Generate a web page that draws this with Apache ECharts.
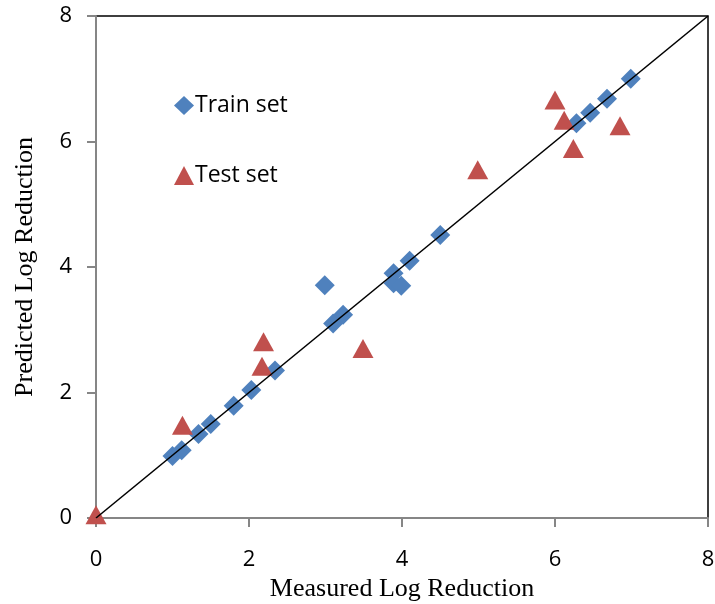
<!DOCTYPE html>
<html>
<head>
<meta charset="utf-8">
<script src="https://cdn.jsdelivr.net/npm/echarts@6/dist/echarts.min.js"></script>
<style>html,body{margin:0;padding:0;background:#fff;}#c{width:715px;height:604px;}</style>
</head>
<body>
<div id="c"></div>
<script>
var trainMeasured = [1.00, 1.12, 1.34, 1.50, 1.80, 2.03, 2.34, 2.99, 3.10, 3.23, 3.89, 3.89, 3.99, 4.10, 4.50, 6.28, 6.46, 6.68, 6.99];
var trainPredicted = [0.99, 1.08, 1.34, 1.50, 1.79, 2.04, 2.35, 3.71, 3.10, 3.24, 3.90, 3.74, 3.70, 4.10, 4.51, 6.29, 6.46, 6.68, 7.00];
var testMeasured = [0.00, 1.13, 2.17, 2.19, 3.49, 4.99, 6.00, 6.12, 6.24, 6.85];
var testPredicted = [0.05, 1.48, 2.42, 2.81, 2.70, 5.55, 6.66, 6.34, 5.89, 6.25];
var axisTicks = [0, 2, 4, 6, 8];
var seriesNames = ['Train set', 'Test set'];

function pairs(xs, ys) { return xs.map(function (x, i) { return [x, ys[i]]; }); }

var chart = echarts.init(document.getElementById('c'));
var tickFont = { fontFamily: '"Open Sans", "Noto Sans", sans-serif', fontSize: 22, color: '#000' };
chart.setOption({
  animation: false,
  backgroundColor: '#fff',
  grid: { left: 96, right: 7, top: 16, bottom: 86, containLabel: false, outerBoundsMode: 'none', show: true, borderColor: '#000', borderWidth: 1.5, backgroundColor: 'transparent' },
  legend: {
    data: seriesNames,
    orient: 'vertical',
    left: 169, top: 89,
    itemGap: 47,
    itemWidth: 20, itemHeight: 19,
    textStyle: { fontFamily: '"Open Sans", "Noto Sans", sans-serif', fontSize: 23, color: '#000', padding: [0, 0, 0, -4] }
  },
  xAxis: {
    type: 'value', min: axisTicks[0], max: axisTicks[axisTicks.length - 1], interval: 2,
    name: 'Measured Log Reduction', nameLocation: 'middle', nameGap: 52,
    nameTextStyle: { fontFamily: '"Liberation Serif", "Times New Roman", serif', fontSize: 26, color: '#000' },
    axisLine: { show: true, lineStyle: { color: '#868686', width: 2 } },
    axisTick: { show: true, inside: false, length: 9, lineStyle: { color: '#868686', width: 2 } },
    axisLabel: Object.assign({ margin: 31 }, tickFont),
    splitLine: { show: false }
  },
  yAxis: {
    type: 'value', min: axisTicks[0], max: axisTicks[axisTicks.length - 1], interval: 2,
    name: 'Predicted Log Reduction', nameLocation: 'middle', nameGap: 58,
    nameTextStyle: { fontFamily: '"Liberation Serif", "Times New Roman", serif', fontSize: 26, color: '#000' },
    axisLine: { show: true, lineStyle: { color: '#868686', width: 2 } },
    axisTick: { show: true, inside: false, length: 9, lineStyle: { color: '#868686', width: 2 } },
    axisLabel: Object.assign({ margin: 24 }, tickFont),
    splitLine: { show: false }
  },
  series: [
    {
      name: seriesNames[0], type: 'scatter', symbol: 'diamond', symbolSize: [20, 20],
      itemStyle: { color: '#4F81BD', opacity: 1 }, z: 2,
      data: pairs(trainMeasured, trainPredicted)
    },
    {
      name: seriesNames[1], type: 'scatter', symbol: 'triangle', symbolSize: [21, 19],
      itemStyle: { color: '#C0504D', opacity: 1 }, z: 2,
      data: pairs(testMeasured, testPredicted)
    },
    {
      name: 'y=x', type: 'line', symbol: 'none', silent: true, z: 5,
      lineStyle: { color: '#000', width: 1.6 },
      data: [[axisTicks[0], axisTicks[0]], [axisTicks[axisTicks.length - 1], axisTicks[axisTicks.length - 1]]]
    }
  ]
});
</script>
</body>
</html>
